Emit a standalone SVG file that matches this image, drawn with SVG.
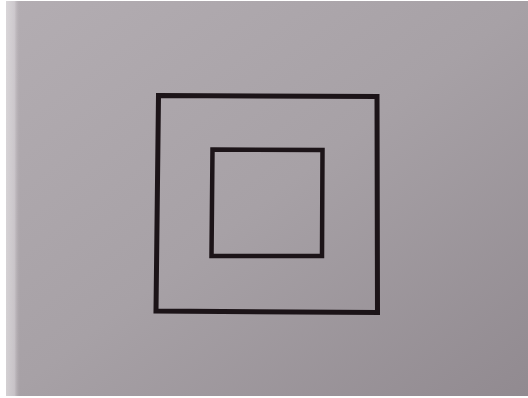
<svg xmlns="http://www.w3.org/2000/svg" width="528" height="398" viewBox="0 0 528 398">
<defs>
<linearGradient id="bg" x1="0" y1="0" x2="1" y2="1">
<stop offset="0" stop-color="#b3adb2"/>
<stop offset="0.5" stop-color="#a7a1a6"/>
<stop offset="1" stop-color="#918a90"/>
</linearGradient>
<linearGradient id="edge" x1="0" y1="0" x2="1" y2="0">
<stop offset="0" stop-color="#ffffff"/>
<stop offset="0.6" stop-color="#e8e4e8"/>
<stop offset="1" stop-color="#b8b1b6" stop-opacity="0"/>
</linearGradient>
</defs>
<style>
.sq{fill:none;stroke:#1c1418;stroke-linejoin:miter}
</style>
<rect x="0" y="0" width="528" height="398" fill="#ffffff"/>
<rect x="6" y="1" width="522" height="395" fill="url(#bg)"/>
<rect x="6" y="1" width="14" height="395" fill="url(#edge)" opacity="0.5"/>
<g id="outer-square">
<polygon class="sq" stroke-width="5" points="158.5,95.5 377,96.5 377.5,312.5 156,311"/>
</g>
<g id="inner-square">
<polygon class="sq" stroke-width="4.5" points="212.5,149.5 322.5,150 322,256 211.5,256"/>
</g>
<g id="connectors"/>
</svg>
